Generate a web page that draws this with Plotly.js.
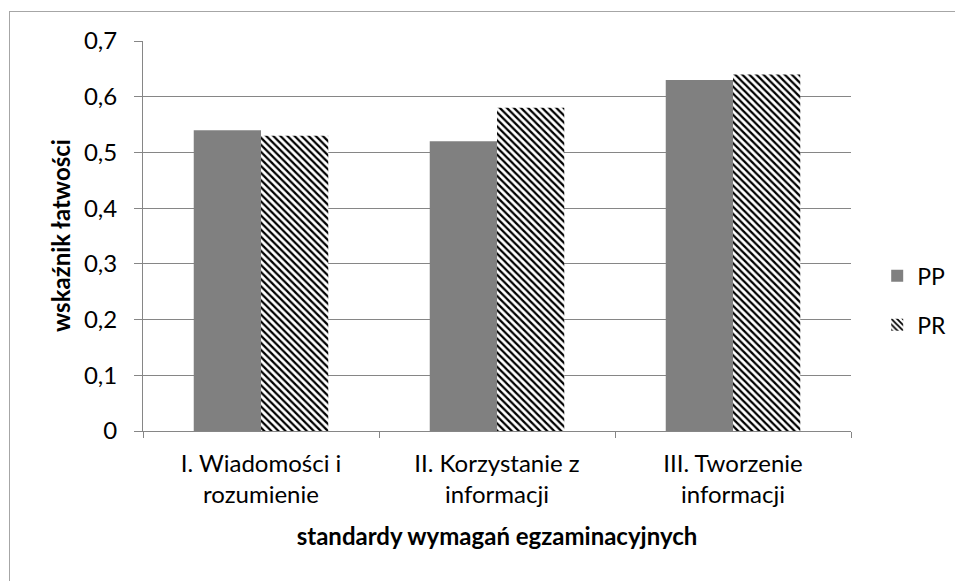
<!DOCTYPE html>
<html>
<head>
<meta charset="utf-8">
<script src="https://cdn.plot.ly/plotly-3.0.1.min.js"></script>
<style>
html,body{margin:0;padding:0;background:#fff;}
#wrap{position:relative;width:955px;height:581px;overflow:hidden;}
#frame{position:absolute;left:9px;top:11px;width:1000px;height:1000px;border-left:1px solid #a6a6a6;border-top:1px solid #a6a6a6;pointer-events:none;}
#chart{position:absolute;left:0;top:0;width:955px;height:581px;}
</style>
</head>
<body>
<div id="wrap"><div id="chart"></div><div id="frame"></div></div>
<script>
var categories = ["I. Wiadomości i<br>rozumienie", "II. Korzystanie z<br>informacji", "III. Tworzenie<br>informacji"];
var seriesNames = ["PP", "PR"];
var ppValues = [0.54, 0.52, 0.63];
var prValues = [0.53, 0.58, 0.64];
var yTickVals = [0, 0.1, 0.2, 0.3, 0.4, 0.5, 0.6, 0.7];
var yTickText = ["0", "0,1", "0,2", "0,3", "0,4", "0,5", "0,6", "0,7"];
var xTitle = "standardy wymagań egzaminacyjnych";
var yTitle = "wskaźnik łatwości";

var font = "Lato, 'Open Sans', sans-serif";
var traces = [
  {type: "bar", name: seriesNames[0], x: categories, y: ppValues, legendgroup: "a",
   marker: {color: "#808080", line: {width: 0}}},
  {type: "bar", name: seriesNames[1], x: categories, y: prValues, legendgroup: "b",
   marker: {color: "#ffffff", line: {width: 0},
            pattern: {shape: "\\", fgcolor: "#000000", bgcolor: "#ffffff", size: 5, solidity: 0.45}}}
];
var layout = {
  width: 955, height: 581,
  margin: {l: 143, r: 104, t: 41, b: 150, autoexpand: false},
  paper_bgcolor: "#ffffff", plot_bgcolor: "#ffffff",
  font: {family: font, color: "#000000", size: 24},
  barmode: "group", bargap: 0.43, bargroupgap: 0,
  showlegend: true,
  legend: {x: 1.037, y: 0.335, xanchor: "left", yanchor: "middle",
           font: {family: font, size: 23, color: "#000"}, tracegroupgap: 16, itemwidth: 30},
  xaxis: {
    type: "category", tickson: "boundaries", ticks: "outside", ticklen: 6, tickcolor: "#868686",
    showline: true, linecolor: "#868686", linewidth: 1,
    tickfont: {family: font, size: 24},
    ticklabelstandoff: 11,
    title: {text: "<b>" + xTitle + "</b>", font: {family: font, size: 24}, standoff: 21},
    automargin: false
  },
  yaxis: {
    range: [0, 0.7], tickvals: yTickVals, ticktext: yTickText,
    ticks: "outside", ticklen: 8, tickcolor: "#868686",
    showline: true, linecolor: "#868686", linewidth: 1,
    showgrid: true, gridcolor: "#868686", gridwidth: 1, zeroline: false,
    tickfont: {family: font, size: 24},
    ticklabelstandoff: 12,
    automargin: false
  },
  annotations: [{
    text: "<b>" + yTitle + "</b>", xref: "paper", yref: "paper",
    x: -0.1172, y: 0.5, xanchor: "center", yanchor: "middle",
    textangle: -90, showarrow: false, font: {family: font, size: 24, color: "#000"}
  }]
};
Plotly.newPlot("chart", traces, layout, {displayModeBar: false, staticPlot: true});
</script>
</body>
</html>
